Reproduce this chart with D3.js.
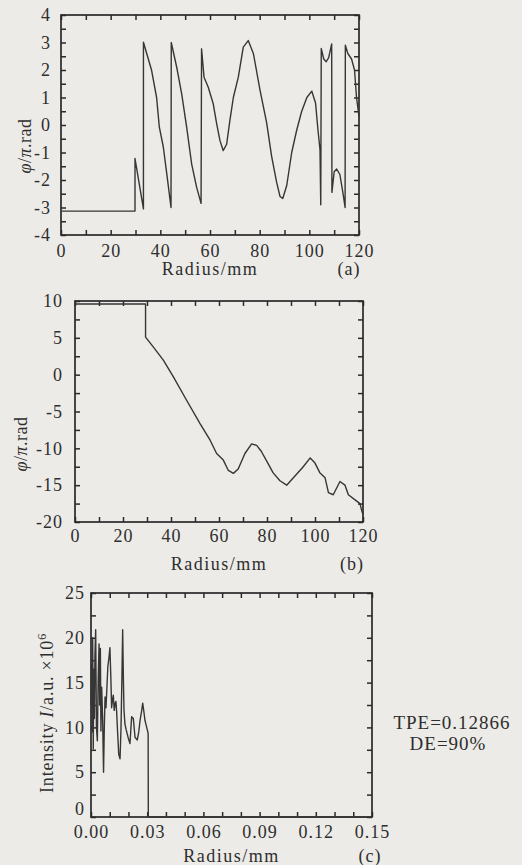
<!DOCTYPE html>
<html><head><meta charset="utf-8">
<script src="https://cdn.jsdelivr.net/npm/d3@7"></script>
<style>
body{margin:0;background:#ecebe8;}
svg text{font-family:"Liberation Serif","Times New Roman",serif;fill:#2e2e2e;}
</style>
</head><body>
<svg id="chart" width="522" height="865"></svg>
<script>
// ---------- data (a): wrapped phase ----------
const radiusA = [0, 29.8, 29.8, 33.2, 33.2, 36.5, 38.5, 39.6, 41.2, 42.6, 44.3, 44.4, 46.6, 48.6, 50.6, 52.6, 54.6, 56.4, 56.6, 57.6, 59.3, 61.3, 62.7, 64.0, 65.3, 66.7, 68.0, 69.4, 71.4, 73.4, 75.4, 77.5, 80.1, 82.8, 84.8, 86.8, 88.2, 89.3, 90.9, 92.9, 94.9, 96.9, 99.0, 101.0, 102.5, 103.5, 104.3, 104.6, 104.8, 105.8, 106.8, 107.8, 109.0, 109.1, 110.0, 111.0, 112.3, 113.5, 114.4, 114.5, 115.5, 117.0, 118.2, 119.0, 120];
const phaseA  = [-3.13, -3.13, -1.22, -3.05, 3.01, 1.98, 1.0, -0.08, -0.8, -1.78, -3.0, 3.0, 2.1, 1.13, -0.08, -1.41, -2.26, -2.85, 2.77, 1.74, 1.37, 0.77, 0.04, -0.56, -0.93, -0.7, 0.16, 1.0, 1.74, 2.83, 3.07, 2.59, 1.29, 0.09, -1.13, -2.07, -2.6, -2.67, -2.2, -1.0, -0.19, 0.49, 1.0, 1.23, 0.8, -0.2, -0.9, -2.9, 2.78, 2.4, 2.3, 2.45, 2.95, -2.45, -1.7, -1.6, -1.8, -2.45, -3.0, 2.9, 2.6, 2.4, 2.0, 1.0, 0.3];
const xTicksA = [0, 20, 40, 60, 80, 100, 120];
const yTicksA = [-4, -3, -2, -1, 0, 1, 2, 3, 4];

// ---------- data (b): unwrapped phase ----------
const radiusB = [0, 29.4, 29.4, 32.6, 36.8, 41, 46.5, 52.1, 56.3, 59, 61.8, 63.9, 66, 68, 70.8, 73.6, 75.7, 77.6, 80, 82.5, 85.4, 88.2, 91, 95.1, 98, 100, 102, 104.2, 105.6, 107.6, 110.4, 112.5, 113.9, 116.7, 118.75, 119.5, 120];
const phaseB  = [9.6, 9.6, 5.1, 3.78, 1.97, -0.3, -3.47, -6.64, -8.9, -10.7, -11.6, -13.0, -13.4, -12.8, -10.7, -9.4, -9.6, -10.4, -11.8, -13.3, -14.4, -15.0, -14.0, -12.5, -11.3, -12.0, -13.3, -14.0, -16.0, -16.3, -14.5, -15.0, -16.3, -17.0, -17.5, -18.5, -19.0];
const xTicksB = [0, 20, 40, 60, 80, 100, 120];
const yTicksB = [-20, -15, -10, -5, 0, 5, 10];

// ---------- data (c): intensity ----------
const radiusC = [0, 0.0003, 0.0006, 0.0009, 0.0012, 0.0015, 0.0018, 0.0021, 0.0025, 0.0029, 0.0034, 0.0038, 0.0043, 0.0046, 0.0050, 0.0053, 0.0057, 0.0062, 0.0067, 0.0071, 0.0075, 0.0080, 0.0085, 0.0090, 0.0096, 0.0101, 0.0106, 0.0110, 0.0115, 0.0119, 0.0124, 0.0128, 0.0133, 0.0137, 0.0142, 0.0148, 0.0155, 0.0160, 0.0165, 0.0169, 0.0173, 0.0176, 0.0181, 0.0187, 0.0193, 0.0199, 0.0208, 0.0217, 0.0226, 0.0235, 0.0247, 0.0255, 0.0262, 0.0270, 0.0276, 0.0282, 0.0288, 0.0295, 0.0301, 0.0305, 0.0306, 0.15];
const intensityC = [12.5, 17.0, 9.5, 20.0, 7.6, 16.5, 11.0, 18.0, 20.9, 10.0, 8.5, 15.0, 19.3, 12.5, 18.8, 9.6, 14.5, 11.0, 5.0, 10.0, 13.4, 12.2, 14.5, 16.8, 17.8, 18.9, 15.5, 12.2, 13.1, 13.6, 11.9, 12.6, 12.9, 11.7, 9.5, 7.0, 6.5, 9.8, 15.5, 20.9, 15.3, 12.0, 10.4, 9.8, 9.3, 8.8, 8.2, 11.2, 11.0, 8.9, 8.6, 9.5, 10.8, 11.8, 12.7, 11.8, 10.8, 10.2, 9.7, 9.3, 0, 0];
const xTicksC = [0, 0.03, 0.06, 0.09, 0.12, 0.15];
const yTicksC = [0, 5, 10, 15, 20, 25];

const svg = d3.select("#chart");
const INK = "#2a2a2a";

function panel(o) {
  const g = svg.append("g");
  const x = d3.scaleLinear().domain(o.xDomain).range([o.left, o.right]);
  const y = d3.scaleLinear().domain(o.yDomain).range([o.bottom, o.top]);
  const isMaj = (arr, d) => arr.some(v => Math.abs(v - d) < 1e-9);
  const styleAxis = sel => {
    sel.select(".domain").remove();
    sel.selectAll(".tick line").attr("stroke", INK).attr("stroke-width", 1.5);
    sel.selectAll(".tick text").attr("font-size", 18).attr("letter-spacing", "1px")
       .attr("fill", "#2e2e2e").attr("font-family", "Liberation Serif, serif");
  };
  const T = -5;
  g.append("g").attr("transform", `translate(0,${o.bottom})`)
    .call(d3.axisBottom(x).tickValues(o.xMinor).tickSizeInner(T).tickSizeOuter(0)
      .tickPadding(o.xPad).tickFormat(d => isMaj(o.xTicks, d) ? o.xFmt(d) : ""))
    .call(styleAxis);
  g.append("g").attr("transform", `translate(0,${o.top})`)
    .call(d3.axisTop(x).tickValues(o.xMinor).tickSizeInner(T).tickSizeOuter(0).tickFormat(""))
    .call(styleAxis);
  const leftAxis = g.append("g").attr("class", "yleft").attr("transform", `translate(${o.left},0)`)
    .call(d3.axisLeft(y).tickValues(o.yMinor).tickSizeInner(T).tickSizeOuter(0)
      .tickPadding(o.yPad).tickFormat(d => isMaj(o.yTicks, d) ? String(d) : ""))
    .call(styleAxis);
  g.append("g").attr("transform", `translate(${o.right},0)`)
    .call(d3.axisRight(y).tickValues(o.yMinor).tickSizeInner(T).tickSizeOuter(0).tickFormat(""))
    .call(styleAxis);
  g.append("rect").attr("x", o.left).attr("y", o.top)
    .attr("width", o.right - o.left).attr("height", o.bottom - o.top)
    .attr("fill", "none").attr("stroke", INK).attr("stroke-width", 1.7);
  const pts = o.xs.map((v, i) => [v, o.ys[i]]);
  g.append("path").datum(pts)
    .attr("d", d3.line().x(d => x(d[0])).y(d => y(d[1])))
    .attr("fill", "none").attr("stroke", "#363636").attr("stroke-width", 1.4)
    .attr("stroke-linejoin", "round");
  g.append("text").attr("x", (o.left + o.right) / 2).attr("y", o.xLabelY)
    .attr("text-anchor", "middle").attr("font-size", 18).attr("letter-spacing", "1.5px")
    .text("Radius/mm");
  g.append("text").attr("x", o.tagX).attr("y", o.xLabelY)
    .attr("text-anchor", "middle").attr("font-size", 18).attr("letter-spacing", "1px")
    .text(o.tag);
  return {g, x, y, leftAxis};
}

const range = (a, b, s) => d3.range(a, b + s / 2, s).map(v => +v.toFixed(4));
const phiLabel = t => {
  t.append("tspan").attr("font-style", "italic").text("φ");
  t.append("tspan").text("/");
  t.append("tspan").attr("font-style", "italic").text("π");
  t.append("tspan").text(".rad");
};

const A = panel({left: 61, right: 359, top: 15, bottom: 235,
  xDomain: [0, 120], yDomain: [-4, 4],
  xTicks: xTicksA, yTicks: yTicksA, xMinor: range(0, 120, 10), yMinor: range(-4, 4, 0.5),
  xFmt: d => String(d), xPad: 9, yPad: 10,
  xs: radiusA, ys: phaseA, xLabelY: 275, tag: "(a)", tagX: 349});
A.g.append("text").attr("transform", "translate(31,146) rotate(-90)")
  .attr("text-anchor", "middle").attr("font-size", 18).attr("letter-spacing", "0.5px")
  .call(phiLabel);

const B = panel({left: 75, right: 363, top: 301, bottom: 522,
  xDomain: [0, 120], yDomain: [-20, 10],
  xTicks: xTicksB, yTicks: yTicksB, xMinor: range(0, 120, 10), yMinor: range(-20, 10, 2.5),
  xFmt: d => String(d), xPad: 7, yPad: 12,
  xs: radiusB, ys: phaseB, xLabelY: 570, tag: "(b)", tagX: 352});
B.g.append("text").attr("transform", "translate(27,444) rotate(-90)")
  .attr("text-anchor", "middle").attr("font-size", 18).attr("letter-spacing", "0.5px")
  .call(phiLabel);

const C = panel({left: 91, right: 372, top: 593, bottom: 817,
  xDomain: [0, 0.15], yDomain: [0, 25],
  xTicks: xTicksC, yTicks: yTicksC, xMinor: range(0, 0.15, 0.01), yMinor: range(0, 25, 2.5),
  xFmt: d3.format(".2f"), xPad: 8, yPad: 6,
  xs: radiusC, ys: intensityC, xLabelY: 862, tag: "(c)", tagX: 370});
C.leftAxis.selectAll(".tick text").filter(d => d === 0).attr("dy", "-0.15em");
C.g.append("text").attr("transform", "translate(53,713) rotate(-90)")
  .attr("text-anchor", "middle").attr("font-size", 18).attr("letter-spacing", "0.8px")
  .call(t => { t.append("tspan").text("Intensity ");
               t.append("tspan").attr("font-style", "italic").text("I");
               t.append("tspan").text("/a.u. ×10");
               t.append("tspan").attr("font-size", 12).attr("dy", -7).text("6"); });

svg.append("text").attr("x", 452).attr("y", 729).attr("text-anchor", "middle")
  .attr("font-size", 19).attr("letter-spacing", "1px").text("TPE=0.12866");
svg.append("text").attr("x", 448).attr("y", 750).attr("text-anchor", "middle")
  .attr("font-size", 19).attr("letter-spacing", "1px").text("DE=90%");
</script>
</body></html>
